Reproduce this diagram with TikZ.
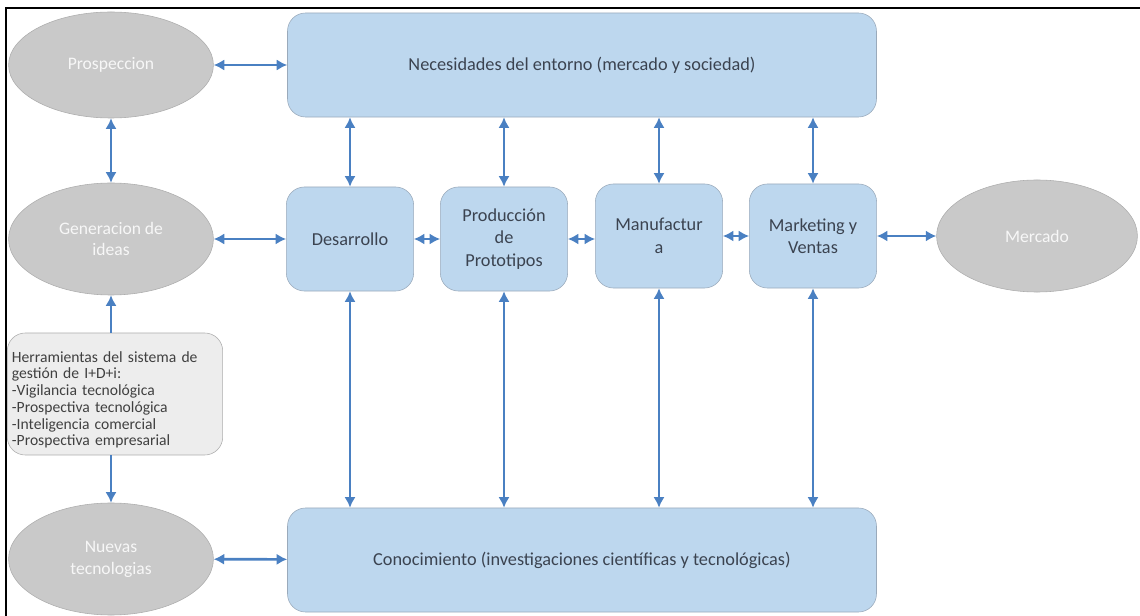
\documentclass[tikz,border=0pt]{standalone}
\usepackage{fontspec}
\setmainfont{Carlito}
\usetikzlibrary{arrows.meta,shapes.geometric}

\definecolor{boxblue}{HTML}{BDD7EE}
\definecolor{boxline}{HTML}{9AAABB}
\definecolor{ovalgray}{HTML}{C9C9C9}
\definecolor{ovalline}{HTML}{ADADAD}
\definecolor{toolgray}{HTML}{EDEDED}
\definecolor{linkblue}{HTML}{4A80C2}
\definecolor{boxtext}{HTML}{3B4350}

\tikzset{
  stagebox/.style={draw=boxline, fill=boxblue, rounded corners=0.45cm, text=boxtext,
    minimum width=3.18cm, minimum height=2.6cm, align=center, font=\fontsize{13}{16}\selectfont},
  widebox/.style={stagebox, minimum width=14.72cm},
  oval/.style={ellipse, draw=ovalline, fill=ovalgray, text=white!94!gray,
    minimum width=5.12cm, minimum height=2.8cm, align=center, inner sep=0pt,
    font=\fontsize{12.5}{15.5}\selectfont},
  toolbox/.style={draw=ovalline, fill=toolgray, rounded corners=0.45cm, text=black!75,
    minimum width=5.38cm, minimum height=3.05cm, text width=5.15cm, align=left,
    font=\fontsize{11.1}{11.9}\selectfont},
  link/.style={<->, draw=linkblue, line width=1.9pt},
  onelink/.style={->, draw=linkblue, line width=1.9pt}
}

\begin{document}
\begin{tikzpicture}[x=0.025cm, y=-0.025cm, >={Latex[length=7.5pt,width=8pt]}]
    \useasboundingbox (0,0) rectangle (1140,616);

    % Page frame
    \draw[line width=1.4pt] (6,616) -- (6,8) -- (1140,8);

    % Left column
    \node[oval, minimum height=2.65cm] (prosp) at (111,65) {Prospeccion};
    \node[oval] (ideas) at (111,239) {Generacion de\\ideas};
    \node[toolbox] (herram) at (115,394) {\rule{0pt}{16pt}\makebox[4.63cm][s]{Herramientas del sistema de}\\
        gestión de I+D+i:\\-Vigilancia tecnológica\\-Prospectiva tecnológica\\
        -Inteligencia comercial\\-Prospectiva empresarial};
    \node[oval] (nuevas) at (111,559) {Nuevas\\tecnologias};

    % Top and bottom bands
    \node[widebox] (necesid) at (582,65) {Necesidades del entorno (mercado y sociedad)};
    \node[widebox] (conoc) at (582,560) {Conocimiento (investigaciones científicas y tecnológicas)};

    % Stages
    \node[stagebox] (desarr) at (350,239) {Desarrollo};
    \node[stagebox] (prototip) at (504,239) {Producción\\de\\Prototipos};
    \node[stagebox] (manuf) at (659,236) {Manufactur\\a};
    \node[stagebox] (market) at (813,236) {Marketing y\\Ventas};

    % Right oval
    \node[oval, minimum width=5.02cm] (mercado) at (1037,236) {Mercado};

    % Left links
    \draw[link] (prosp) -- (necesid);
    \draw[link] (prosp) -- (ideas);
    \draw[link] (ideas) -- (desarr);
    \draw[onelink] (herram.north -| ideas) -- (ideas.south);
    \draw[onelink] (herram.south -| nuevas) -- (nuevas.north);
    \draw[link] (nuevas) -- (conoc);

    % Links between stages
    \draw[link] (desarr) -- (prototip);
    \draw[link] (prototip.east) -- (prototip.east -| manuf.west);
    \draw[link] (manuf) -- (market);
    \draw[link] (market) -- (mercado);

    % Links up and down
    \foreach \stage in {desarr, prototip, manuf, market} {
        \draw[link] (\stage.north) -- (\stage |- necesid.south);
        \draw[link] (\stage.south) -- (\stage |- conoc.north);
    }
\end{tikzpicture}
\end{document}
